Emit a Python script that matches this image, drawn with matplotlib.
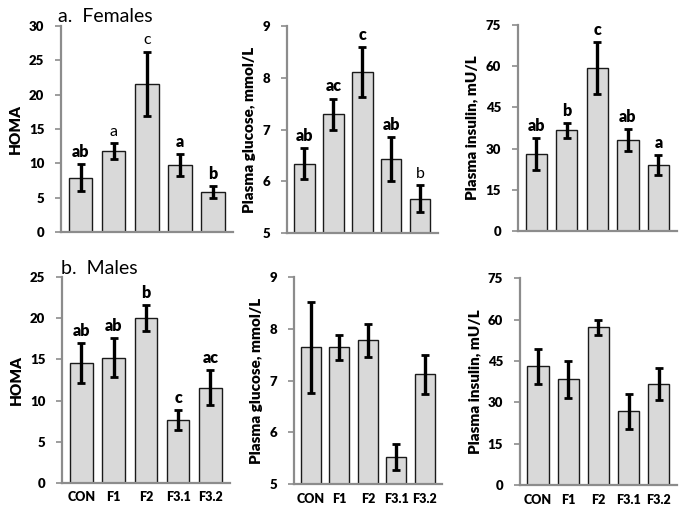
import matplotlib
matplotlib.use("Agg")
import matplotlib.pyplot as plt
import numpy as np

plt.rcParams['font.family'] = ['Lato', 'DejaVu Sans']

groups = ['CON', 'F1', 'F2', 'F3.1', 'F3.2']

# females
f_homa = [7.9, 11.8, 21.6, 9.7, 5.8]
f_homa_err = [2.0, 1.2, 4.7, 1.6, 0.9]
f_homa_lbl = ['ab', 'a', 'c', 'a', 'b']
f_glu = [6.34, 7.30, 8.11, 6.43, 5.66]
f_glu_err = [0.30, 0.30, 0.48, 0.43, 0.26]
f_glu_lbl = ['ab', 'ac', 'c', 'ab', 'b']
f_ins = [28.0, 36.6, 59.4, 33.1, 23.9]
f_ins_err = [5.9, 2.8, 9.4, 3.9, 3.6]
f_ins_lbl = ['ab', 'b', 'c', 'ab', 'a']

# males
m_homa = [14.6, 15.2, 20.0, 7.7, 11.6]
m_homa_err = [2.4, 2.35, 1.6, 1.2, 2.1]
m_homa_lbl = ['ab', 'ab', 'b', 'c', 'ac']
m_glu = [7.64, 7.64, 7.78, 5.52, 7.12]
m_glu_err = [0.88, 0.25, 0.32, 0.25, 0.38]
m_ins = [43.0, 38.3, 57.2, 26.8, 36.8]
m_ins_err = [6.2, 6.6, 2.8, 6.3, 5.8]

# which letters look non-bold in the original
regular = {('f_homa', 1), ('f_homa', 2), ('f_glu', 4)}

fig = plt.figure(figsize=(6.85, 5.14), dpi=100)

def panel(rect, vals, errs, ylim, yticks, ylabel, labels=None, key=None, xlabels=False):
    ax = fig.add_axes(rect)
    x = np.arange(len(vals))
    base = ylim[0]
    ax.bar(x, np.array(vals) - base, bottom=base, width=0.7, color='#d9d9d9',
           edgecolor='#1a1a1a', linewidth=1.0, zorder=2)
    ax.errorbar(x, vals, yerr=errs, fmt='none', ecolor='black', elinewidth=2.4,
                capsize=3.2, capthick=2, zorder=3)
    ax.set_xlim(-0.6, 4.6)
    ax.set_ylim(*ylim)
    ax.set_yticks(yticks)
    ax.set_yticklabels([str(t) for t in yticks], fontsize=9.5, fontweight='heavy')
    ax.set_ylabel(ylabel, fontsize=11, fontweight='heavy', labelpad=5)
    for s in ['top', 'right']:
        ax.spines[s].set_visible(False)
    for s in ['left', 'bottom']:
        ax.spines[s].set_color('#8c8c8c')
        ax.spines[s].set_linewidth(1.6)
    ax.tick_params(axis='y', length=4, width=1.2, color='#8c8c8c', pad=8)
    ax.tick_params(axis='x', length=0, pad=6)
    ax.set_xticks(x)
    if xlabels:
        ax.set_xticklabels(groups, fontsize=9, fontweight='heavy')
    else:
        ax.set_xticklabels([])
    if labels:
        for i, (v, e, t) in enumerate(zip(vals, errs, labels)):
            w = 'normal' if (key, i) in regular else 'heavy'
            ax.annotate(t, (i, v + e), xytext=(0, 3), textcoords='offset points',
                        ha='center', va='bottom', fontsize=11.5, fontweight=w)
    return ax

panel([0.089, 0.549, 0.251, 0.400], f_homa, f_homa_err, (0, 30), [0, 5, 10, 15, 20, 25, 30],
      'HOMA', f_homa_lbl, 'f_homa')
panel([0.419, 0.547, 0.220, 0.402], f_glu, f_glu_err, (5, 9), [5, 6, 7, 8, 9],
      'Plasma glucose, mmol/L', f_glu_lbl, 'f_glu')
panel([0.756, 0.551, 0.232, 0.400], f_ins, f_ins_err, (0, 75), [0, 15, 30, 45, 60, 75],
      'Plasma insulin, mU/L', f_ins_lbl, 'f_ins')

panel([0.0905, 0.060, 0.245, 0.401], m_homa, m_homa_err, (0, 25), [0, 5, 10, 15, 20, 25],
      'HOMA', m_homa_lbl, 'm_homa', xlabels=True)
panel([0.429, 0.058, 0.216, 0.403], m_glu, m_glu_err, (5, 9), [5, 6, 7, 8, 9],
      'Plasma glucose, mmol/L', xlabels=True)
panel([0.759, 0.056, 0.229, 0.403], m_ins, m_ins_err, (0, 75), [0, 15, 30, 45, 60, 75],
      'Plasma insulin, mU/L', xlabels=True)

fig.text(0.085, 0.967, 'a.  Females', fontsize=14, va='center', ha='left')
fig.text(0.089, 0.478, 'b.  Males', fontsize=14, va='center', ha='left')

fig.savefig('out.png', dpi=100)
